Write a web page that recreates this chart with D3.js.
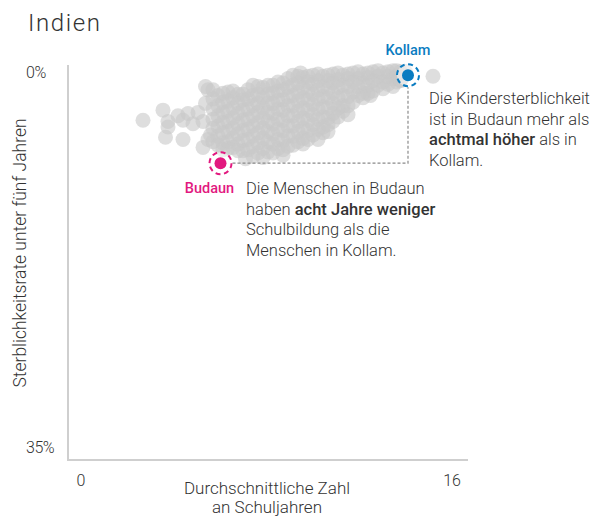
<!DOCTYPE html>
<html>
<head>
<meta charset="utf-8">
<script src="https://cdn.jsdelivr.net/npm/d3@7"></script>
<style>
  body { margin: 0; background: #fff; }
  text { font-family: "Roboto", "DejaVu Sans", sans-serif; fill: #333; font-weight: 300; }
</style>
</head>
<body>
<svg width="603" height="518"></svg>
<script>
// data: districts (years of schooling, under-5 mortality %)
var districtYears = [
  3.0, 3.8, 4.0, 4.0, 3.9, 4.6, 4.4, 4.8, 5.2, 5.5, 5.4, 5.0, 4.6, 5.6, 5.8, 5.4, 5.6, 5.7,
  5.8, 5.8, 5.8, 5.8, 5.8,
  6.0, 6.0, 6.0, 6.0, 6.0, 6.0,
  6.2, 6.2, 6.2, 6.2, 6.2, 6.2, 6.2,
  6.4, 6.4, 6.4, 6.4, 6.4, 6.4, 6.4,
  6.6, 6.6, 6.6, 6.6, 6.6, 6.6, 6.6,
  6.8, 6.8, 6.8, 6.8, 6.8, 6.8, 6.8,
  7.0, 7.0, 7.0, 7.0, 7.0, 7.0, 7.0,
  7.2, 7.2, 7.2, 7.2, 7.2, 7.2, 7.2,
  7.4, 7.4, 7.4, 7.4, 7.4, 7.4, 7.4, 7.4,
  7.6, 7.6, 7.6, 7.6, 7.6, 7.6, 7.6, 7.6,
  7.8, 7.8, 7.8, 7.8, 7.8, 7.8, 7.8, 7.8,
  8.0, 8.0, 8.0, 8.0, 8.0, 8.0, 8.0, 8.0,
  8.2, 8.2, 8.2, 8.2, 8.2, 8.2, 8.2, 8.2,
  8.4, 8.4, 8.4, 8.4, 8.4, 8.4, 8.4, 8.4,
  8.6, 8.6, 8.6, 8.6, 8.6, 8.6, 8.6, 8.6,
  8.8, 8.8, 8.8, 8.8, 8.8, 8.8, 8.8, 8.8,
  9.0, 9.0, 9.0, 9.0, 9.0, 9.0, 9.0, 9.0,
  9.2, 9.2, 9.2, 9.2, 9.2, 9.2, 9.2, 9.2,
  9.4, 9.4, 9.4, 9.4, 9.4, 9.4, 9.4, 9.4,
  9.6, 9.6, 9.6, 9.6, 9.6, 9.6, 9.6, 9.6,
  9.8, 9.8, 9.8, 9.8, 9.8, 9.8, 9.8,
  10.0, 10.0, 10.0, 10.0, 10.0, 10.0, 10.0,
  10.2, 10.2, 10.2, 10.2, 10.2, 10.2, 10.2,
  10.4, 10.4, 10.4, 10.4, 10.4, 10.4, 10.4,
  10.6, 10.6, 10.6, 10.6, 10.6, 10.6,
  10.8, 10.8, 10.8, 10.8, 10.8,
  11.0, 11.0, 11.0, 11.0, 11.0,
  11.2, 11.2, 11.2, 11.2, 11.2,
  11.4, 11.4, 11.4, 11.4,
  11.6, 11.6, 11.6, 11.6,
  11.8, 11.8, 11.8, 11.8,
  12.0, 12.0, 12.0, 12.0,
  12.2, 12.2, 12.2,
  12.4, 12.4, 12.4,
  12.6, 12.6, 12.6,
  12.8, 12.8, 12.8,
  13.0, 13.0, 13.0,
  13.15, 13.15, 13.15,
  13.3, 13.3, 13.5,
  10.0, 10.8, 12.1, 13.3, 14.6,
  11.2, 10.4, 8.6, 9.3, 5.5, 7.1
];
var districtMortality = [
  4.9, 4.0, 5.0, 5.5, 6.4, 6.6, 4.5, 4.3, 4.2, 3.4, 5.0, 5.2, 4.9, 2.2, 2.2, 7.3, 6.6, 6.2,
  3.0, 3.9, 4.8, 5.6, 6.8,
  2.7, 3.6, 4.5, 5.4, 6.3, 7.1,
  2.5, 3.3, 4.2, 5.1, 6.0, 6.9, 7.5,
  2.4, 3.2, 4.1, 5.0, 5.9, 6.8, 7.4,
  2.3, 2.9, 3.8, 4.7, 5.6, 6.5, 7.3,
  2.6, 3.4, 4.3, 5.2, 6.1, 7.0, 7.6,
  2.6, 3.1, 4.0, 4.9, 5.8, 6.7, 7.6,
  2.2, 3.0, 3.9, 4.8, 5.7, 6.6, 7.5,
  1.8, 2.7, 3.6, 4.5, 5.4, 6.3, 7.2, 8.1,
  1.9, 2.6, 3.4, 4.2, 5.1, 6.0, 6.9, 7.8,
  2.0, 2.9, 3.8, 4.7, 5.6, 6.5, 7.4, 8.2,
  1.8, 2.6, 3.4, 4.2, 5.0, 5.9, 6.8, 7.7,
  1.8, 2.5, 3.4, 4.3, 5.2, 6.1, 7.0, 7.8,
  1.5, 2.3, 3.1, 3.9, 4.8, 5.7, 6.6, 7.4,
  1.6, 2.2, 3.1, 4.0, 4.9, 5.8, 6.7, 7.5,
  1.2, 2.0, 2.8, 3.6, 4.5, 5.4, 6.3, 7.2,
  0.9, 1.8, 2.7, 3.6, 4.5, 5.4, 6.3, 7.1,
  1.0, 1.6, 2.4, 3.2, 4.1, 5.0, 5.9, 6.8,
  1.1, 2.0, 2.9, 3.8, 4.7, 5.6, 6.5, 7.0,
  1.0, 1.5, 2.3, 3.1, 4.0, 4.9, 5.8, 6.6,
  0.9, 1.7, 2.6, 3.5, 4.4, 5.3, 6.2,
  0.8, 1.4, 2.2, 3.0, 3.9, 4.8, 5.7,
  1.0, 1.9, 2.8, 3.7, 4.6, 5.5, 6.0,
  0.9, 1.4, 2.1, 2.9, 3.8, 4.7, 5.3,
  0.8, 1.6, 2.5, 3.4, 4.3, 5.0,
  0.7, 1.3, 2.0, 2.9, 3.8,
  0.9, 1.8, 2.7, 3.6, 4.1,
  0.8, 1.2, 1.9, 2.8, 3.6,
  0.7, 1.5, 2.4, 3.3,
  0.6, 1.2, 1.9, 2.7,
  0.8, 1.6, 2.5, 2.9,
  0.7, 1.1, 1.8, 2.5,
  0.6, 1.4, 2.3,
  0.5, 1.0, 1.8,
  0.7, 1.5, 2.1,
  0.6, 1.0, 1.7,
  0.5, 1.2, 1.9,
  0.5, 1.0, 1.5,
  0.6, 1.4, 0.6,
  6.6, 4.6, 2.7, 1.3, 1.0,
  4.4, 5.9, 8.0, 0.7, 1.9, 8.3
];

// highlighted districts
var highlightNames = ["Kollam", "Budaun"];
var highlightYears = [13.6, 6.1];
var highlightMortality = [0.9, 8.7];
var highlightColors = ["#0a7cc1", "#e2197f"];

var xTicks = [0, 16];
var yTicks = [0, 35];

var svg = d3.select("svg");

var x = d3.scaleLinear().domain([0, 16]).range([68, 468]);
var y = d3.scaleLinear().domain([0, 35]).range([65, 460]);

// title
svg.append("text")
  .attr("x", 28).attr("y", 31)
  .style("font-size", "24px")
  .style("letter-spacing", "1.6px")
  .text("Indien");

// axes
svg.append("line")
  .attr("x1", x(0)).attr("x2", x(0))
  .attr("y1", y(0)).attr("y2", y(35))
  .attr("stroke", "#cfcfcf").attr("stroke-width", 2);
svg.append("line")
  .attr("x1", x(0) - 1).attr("x2", x(16))
  .attr("y1", y(35)).attr("y2", y(35))
  .attr("stroke", "#cfcfcf").attr("stroke-width", 2);

svg.selectAll(".ytick")
  .data(yTicks)
  .enter()
  .append("text")
    .attr("x", 26)
    .attr("y", (d, i) => i == 0 ? y(d) + 13 : y(d) - 7)
    .style("font-size", "16px")
    .style("letter-spacing", "-0.5px")
    .text(d => d + "%");

svg.selectAll(".xtick")
  .data(xTicks)
  .enter()
  .append("text")
    .attr("x", (d, i) => i == 0 ? x(d) + 13 : x(d) - 16)
    .attr("y", y(35) + 26)
    .attr("text-anchor", "middle")
    .style("font-size", "16px")
    .text(d => d);

// axis titles
svg.append("text")
  .attr("transform", "translate(26,253) rotate(-90)")
  .attr("text-anchor", "middle")
  .style("font-size", "17.5px")
  .text("Sterblichkeitsrate unter fünf Jahren");

var xt = svg.append("text")
  .attr("text-anchor", "middle")
  .style("font-size", "17px");
xt.append("tspan").attr("x", 267).attr("y", 494).text("Durchschnittliche Zahl");
xt.append("tspan").attr("x", 267).attr("y", 513).text("an Schuljahren");

// district cloud
svg.append("g")
  .selectAll("circle")
  .data(districtYears)
  .enter()
  .append("circle")
    .attr("cx", d => x(d))
    .attr("cy", (d, i) => y(districtMortality[i]))
    .attr("r", 7.5)
    .style("fill", "#c8c8c8")
    .style("opacity", 0.6);

// connector between the two districts
var kx = x(highlightYears[0]), ky = y(highlightMortality[0]);
var bx = x(highlightYears[1]), by = y(highlightMortality[1]);
svg.append("path")
  .attr("d", "M" + (bx + 12) + "," + by + "H" + kx + "V" + (ky + 12))
  .attr("fill", "none")
  .attr("stroke", "#8a8a8a")
  .attr("stroke-width", 1.2)
  .attr("stroke-dasharray", "3,2");

var hl = svg.append("g")
  .selectAll("g")
  .data(highlightNames)
  .enter()
  .append("g")
    .attr("transform", (d, i) => "translate(" + x(highlightYears[i]) + "," + y(highlightMortality[i]) + ")");

hl.append("circle")
  .attr("r", 11)
  .attr("fill", "#fff")
  .attr("fill-opacity", 0.5)
  .attr("stroke", (d, i) => highlightColors[i])
  .attr("stroke-width", 2)
  .attr("stroke-dasharray", "5,3.6");
hl.append("circle")
  .attr("r", 6)
  .attr("fill", (d, i) => highlightColors[i]);

// labels
svg.append("text")
  .attr("x", kx).attr("y", ky - 20)
  .attr("text-anchor", "middle")
  .style("font-size", "14.5px").style("font-weight", 500)
  .style("fill", highlightColors[0])
  .text(highlightNames[0]);
svg.append("text")
  .attr("x", bx - 11).attr("y", by + 30)
  .attr("text-anchor", "middle")
  .style("font-size", "14.5px").style("font-weight", 500)
  .style("fill", highlightColors[1])
  .text(highlightNames[1]);

// annotations
function note(x0, y0, lines) {
  var t = svg.append("text").style("font-size", "16.5px");
  lines.forEach((parts, i) => {
    var first = true;
    parts.forEach(p => {
      var s = t.append("tspan").text(p[0]);
      if (first) { s.attr("x", x0).attr("y", y0 + i * 20.5); first = false; }
      if (p[1]) s.style("font-weight", 500);
    });
  });
}
note(429, 104, [
  [["Die Kindersterblichkeit"]],
  [["ist in Budaun mehr als"]],
  [["achtmal höher", true], [" als in"]],
  [["Kollam."]]
]);
note(246, 194, [
  [["Die Menschen in Budaun"]],
  [["haben "], ["acht Jahre weniger", true]],
  [["Schulbildung als die"]],
  [["Menschen in Kollam."]]
]);
</script>
</body>
</html>
